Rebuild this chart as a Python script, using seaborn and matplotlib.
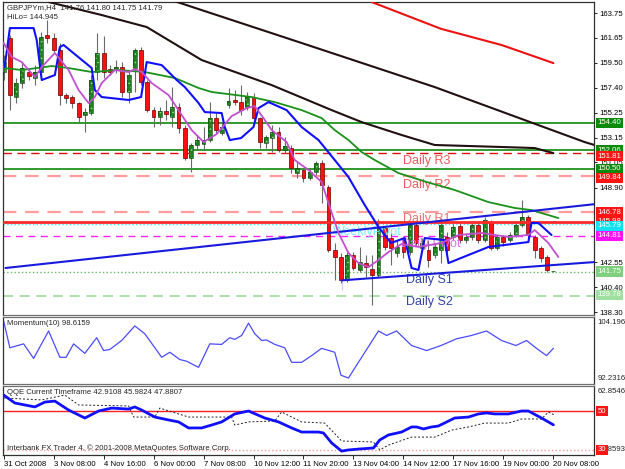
import numpy as np
import pandas as pd
import matplotlib
matplotlib.use("Agg")
import matplotlib.pyplot as plt
import seaborn as sns

sns.set_theme(style="white")
plt.rcParams["font.family"] = ["Liberation Sans", "DejaVu Sans"]
plt.rcParams["hatch.linewidth"] = 0.6

# ---- GBPJPYm H4 candles ----
opens = [158.73, 161.62, 156.60, 157.79, 158.73, 158.22, 158.73, 161.88, 161.62, 160.60,
         156.77, 156.60, 156.09, 155.07, 155.24, 158.73, 160.35, 158.98, 158.90, 159.15,
         157.03, 159.07, 160.60, 157.88, 155.49, 154.90, 155.41, 154.90, 155.75, 153.96,
         151.41, 152.52, 152.60, 152.94, 154.81, 153.54, 155.92, 156.35, 156.17, 155.75,
         156.60, 154.81, 152.69, 153.11, 153.62, 152.09, 152.26, 150.13, 150.39, 149.71,
         150.22, 150.98, 148.94, 143.58, 142.98, 141.03, 143.16, 141.88, 142.47, 141.96,
         141.45, 145.45, 144.60, 143.33, 144.43, 143.41, 145.71, 143.75, 143.58, 143.16,
         143.58, 144.69, 144.69, 145.62, 144.43, 144.69, 145.71, 144.43, 145.96, 143.75,
         144.69, 144.43, 144.86, 145.71, 146.39, 144.69, 143.75, 142.98, 141.76]
highs = [160.18, 161.88, 158.22, 159.58, 159.07, 159.32, 162.13, 163.15, 162.05, 161.20,
         156.94, 156.77, 156.17, 155.66, 158.47, 162.05, 161.79, 159.32, 159.75, 159.58,
         158.90, 160.77, 160.86, 158.05, 155.75, 155.75, 156.35, 157.45, 156.09, 154.22,
         152.69, 153.37, 154.05, 156.17, 155.24, 154.47, 157.37, 157.20, 157.62, 157.03,
         156.94, 154.90, 153.37, 154.22, 154.05, 153.20, 152.52, 151.07, 150.56, 150.56,
         151.15, 151.24, 149.11, 144.17, 143.33, 143.41, 143.41, 143.84, 143.16, 143.16,
         146.22, 145.62, 145.11, 144.43, 144.69, 145.88, 145.96, 144.60, 144.43, 144.17,
         146.30, 145.11, 145.79, 145.88, 144.94, 145.88, 145.96, 146.39, 146.13, 144.86,
         144.86, 145.11, 145.96, 147.83, 146.56, 144.86, 143.92, 143.16, 141.80]
lows = [158.05, 155.49, 156.09, 157.37, 158.05, 157.62, 158.47, 161.20, 160.35, 155.92,
        156.09, 155.66, 154.47, 153.62, 155.07, 158.05, 158.22, 158.47, 158.64, 156.60,
        156.09, 157.03, 157.62, 155.32, 154.05, 154.22, 154.64, 154.05, 153.54, 151.24,
        150.22, 152.09, 152.09, 152.77, 153.54, 153.37, 155.66, 155.92, 155.07, 155.49,
        154.64, 152.26, 152.26, 151.92, 151.92, 151.83, 150.13, 149.71, 149.37, 149.54,
        149.96, 147.58, 143.41, 141.03, 140.77, 140.86, 141.88, 141.71, 141.29, 138.90,
        141.29, 143.58, 142.30, 142.98, 142.90, 143.16, 143.92, 143.41, 142.13, 142.90,
        142.47, 143.33, 144.43, 144.17, 144.17, 144.43, 144.17, 144.26, 143.58, 143.58,
        143.92, 144.26, 144.69, 145.54, 144.60, 142.90, 142.56, 141.71, 141.75]
closes = [159.58, 156.77, 157.79, 159.07, 158.39, 158.73, 161.71, 161.62, 160.60, 156.77,
          156.52, 156.09, 154.90, 155.32, 158.05, 160.35, 158.73, 158.73, 159.15, 157.03,
          158.47, 160.60, 157.88, 155.49, 154.90, 155.41, 155.15, 155.75, 153.96, 151.41,
          152.52, 152.94, 152.94, 154.81, 153.79, 154.05, 156.26, 156.17, 155.49, 156.60,
          154.81, 152.77, 153.20, 153.62, 152.09, 152.43, 150.56, 150.56, 149.71, 150.22,
          150.98, 149.11, 143.58, 142.98, 141.03, 143.16, 142.05, 142.56, 142.13, 141.45,
          145.45, 143.84, 143.75, 143.84, 143.41, 145.71, 144.17, 144.17, 142.73, 143.84,
          145.71, 143.58, 145.54, 144.43, 144.69, 145.71, 144.43, 146.13, 143.75, 144.69,
          144.26, 144.86, 145.71, 146.39, 144.86, 143.58, 142.90, 141.88, 141.79]

# HiLo activator line
hilo_x = [0.16, 1, 4.8, 5.3, 6.1, 8.2, 9, 9.6, 14.1, 14.6, 15.7, 20, 22, 22.9, 25.3, 27.7,
          29, 31.2, 32.2, 34.9, 35.4, 36.2, 38, 40, 40.8, 42.4, 45.3, 47.7, 50.4, 53, 55.2,
          57.8, 60, 61, 62, 64.2, 65.3, 66.4, 67.4, 70.6, 71.2, 77.6, 84, 84.5, 85.6, 87.7]
hilo_y = [159.15, 162.47, 162.47, 161.45, 158.05, 158.47, 160.86, 161.03, 159.07, 157.20,
          156.60, 156.35, 156.60, 159.58, 159.32, 158.05, 157.45, 156.09, 155.32, 155.24,
          154.05, 152.94, 153.11, 154.05, 155.66, 156.17, 155.49, 154.05, 152.94, 151.24,
          149.79, 147.41, 145.54, 144.86, 144.18, 144.60, 142.05, 141.88, 144.60, 144.43,
          142.47, 143.84, 144.26, 145.88, 145.88, 144.86]
# short MA (magenta)
mag_x = [0, 1.3, 2.9, 5, 6.1, 8.2, 10.4, 12, 13.6, 14.6, 15.7, 17.8, 20, 21, 22.1, 23.7,
         26.4, 28.5, 30.1, 32, 34.1, 36.5, 38.9, 40.2, 41.6, 42.9, 45.3, 46.6, 48.8, 50.9,
         52, 53.6, 55.2, 56.8, 58.4, 60, 61.6, 63.7, 66.4, 70.1, 72.8, 76.5, 80.8, 84, 85,
         87.2, 88.8]
mag_y = [161.20, 160.01, 159.58, 158.30, 159.15, 160.35, 158.90, 157.20, 156.09, 156.60,
         157.79, 158.90, 158.73, 158.98, 158.73, 157.79, 156.77, 155.07, 153.79, 152.77,
         153.45, 154.98, 155.66, 155.83, 154.81, 153.79, 152.77, 151.24, 150.39, 149.37,
         147.58, 145.03, 143.33, 142.47, 142.13, 142.73, 143.41, 144.09, 143.84, 144.18,
         144.86, 145.03, 144.69, 144.86, 145.28, 144.18, 142.98]
# slow MAs
gma_x = [0, 2.9, 7.7, 10.4, 14.1, 18.4, 22.6, 27.4, 31.2, 33.3, 39.7, 43.4, 47.7, 50.9, 53,
         55.2, 57.3, 59.4, 63.2, 67.7, 72.2, 77.6, 81.8, 84.5, 88.8]
gma_y = [159.07, 158.90, 159.24, 159.07, 158.73, 158.90, 158.73, 158.22, 157.37, 157.03,
         156.60, 156.17, 155.49, 154.81, 153.79, 152.94, 151.92, 151.24, 150.13, 149.37,
         148.69, 147.66, 147.16, 146.98, 146.30]
blka_x = [26, 47.7, 69, 93, 94.7]
blka_y = [165.0, 161.20, 157.45, 152.77, 152.50]
blkb_x = [7.2, 15.7, 22.9, 31.7, 42.9, 52.5, 57.3, 63.7, 69, 79.7, 85, 88]
blkb_y = [164.69, 163.58, 162.56, 159.75, 157.62, 155.49, 154.47, 153.37, 152.52, 152.35,
          152.26, 151.83]
redma_x = [58.9, 70, 79.7, 88]
redma_y = [164.69, 162.41, 161.03, 159.49]
# channel
chan_up_x, chan_up_y = [0.3, 94.7], [142.05, 147.49]
chan_lo_x, chan_lo_y = [54.1, 54.1, 94.7], [141.83, 140.17, 142.56]

# Momentum(10)
mom_x = [0, 1, 3.2, 4.8, 7.2, 9, 10, 11.2, 13, 14.9, 16, 17, 18.9, 21, 22.6, 25.3, 26.6,
         28.2, 29.3, 31.2, 33, 34.9, 36.2, 37, 38.1, 39.2, 40.2, 41.3, 42.1, 43.4, 45, 46.1,
         47.7, 49.3, 50.9, 53, 54, 55.2, 56.5, 58, 60, 61.3, 62.9, 65.3, 67.7, 70, 72.5,
         74.9, 77.3, 79.7, 82, 83.7, 85.3, 86.9, 88]
mom_v = [103.5, 98.7, 99.4, 96.8, 101.7, 97.0, 97.0, 99.4, 97.7, 100.5, 98.2, 98.4, 100.0,
         102.6, 101.2, 97.0, 97.9, 96.6, 96.3, 95.2, 99.4, 99.3, 100.5, 100.2, 100.9, 103.1,
         101.2, 100.0, 100.1, 99.3, 98.7, 96.1, 96.1, 97.3, 98.6, 97.9, 93.8, 93.3, 95.6,
         98.2, 101.7, 100.9, 101.7, 99.1, 98.2, 99.1, 100.3, 100.9, 101.7, 100.0, 99.1,
         100.0, 98.6, 97.3, 98.6]

# QQE
qb_x = [0, 1.8, 5, 6.6, 8.2, 10.4, 13, 15.2, 17.3, 20, 21, 22.1, 24.2, 26.4, 28, 29.6,
        31.7, 33.3, 34.9, 37, 39.2, 41.8, 44, 46.1, 47.7, 50.4, 51.2, 52.5, 54.1, 55.2, 57,
        59.2, 60.2, 61.6, 63.7, 65.3, 66.1, 67.2, 68.5, 69.6, 72.2, 74.4, 76, 77.3, 78.6,
        80.8, 82.9, 84, 86.1, 88]
qb_v = [58.2, 54.1, 52.1, 54.6, 55.1, 50.5, 46.4, 50.0, 51.5, 51.0, 52.1, 50.5, 46.9, 45.4,
        44.4, 41.3, 41.3, 42.8, 44.4, 48.5, 50.0, 46.4, 44.4, 41.3, 39.2, 39.2, 38.7, 33.6,
        29.4, 30.0, 30.5, 31.0, 35.1, 37.7, 39.2, 41.8, 41.8, 40.8, 41.8, 42.3, 46.4, 46.9,
        48.5, 49.0, 48.5, 48.5, 50.0, 50.0, 46.4, 42.9]
qd_x = [0, 6.1, 9.8, 12, 20, 20.8, 24.2, 25, 29.6, 36.5, 37, 39.2, 43.4, 44.5, 47.7, 51.4,
        54.1, 59.2, 60.2, 61.6, 65.3, 69, 71.7, 74.4, 77, 80.8, 82.9, 86.1, 87.2, 88.2]
qd_v = [56.7, 55.7, 58.2, 53.1, 52.6, 46.9, 46.9, 51.5, 46.9, 46.9, 42.8, 44.4, 44.9, 49.5,
        44.4, 43.8, 34.6, 34.1, 30.0, 32.5, 36.6, 36.6, 40.2, 41.8, 43.8, 43.8, 45.9, 45.9,
        49.5, 47.9]

time_labels = ["31 Oct 2008", "3 Nov 08:00", "4 Nov 16:00", "6 Nov 00:00", "7 Nov 08:00",
               "10 Nov 12:00", "11 Nov 20:00", "13 Nov 04:00", "14 Nov 12:00",
               "17 Nov 16:00", "19 Nov 00:00", "20 Nov 08:00"]
price_ticks = [163.75, 161.65, 159.50, 157.40, 155.25, 153.15, 151.05, 148.90, 142.55,
               140.40, 138.30]

df = pd.DataFrame({"o": opens, "h": highs, "l": lows, "c": closes})
df["bar"] = np.arange(len(df))

FS = 5.6  # small terminal font

fig = plt.figure(figsize=(6.25, 4.69), dpi=100)
W, H = 625, 469


def box(l, t, r, b):
    return [l / W, 1 - b / H, (r - l) / W, (b - t) / H]


ax1 = fig.add_axes(box(3, 2, 594, 315))
ax2 = fig.add_axes(box(3, 317, 594, 384), sharex=ax1)
ax3 = fig.add_axes(box(3, 386, 594, 455), sharex=ax1)
for a in (ax1, ax2, ax3):
    a.set_facecolor("white")
    for s in a.spines.values():
        s.set_color("#303030")
        s.set_linewidth(0.9)
    a.yaxis.tick_right()
    a.tick_params(axis="y", right=True, left=False, length=2.5, width=0.6, pad=1.5,
                  labelsize=FS, colors="black")
    a.tick_params(axis="x", bottom=False, labelbottom=False)
# grey separator bands between the windows
for s in ("bottom",):
    ax1.spines[s].set_color("#707070")
    ax2.spines[s].set_color("#707070")
for s in ("top",):
    ax2.spines[s].set_color("#707070")
    ax3.spines[s].set_color("#707070")

# ---- horizontal levels ----
ax1.axhline(154.40, color="#0a8a0a", lw=1.2)
ax1.axhline(152.06, color="#0a8a0a", lw=1.2)
ax1.axhline(150.50, color="#0a8a0a", lw=1.2)
ax1.axhline(151.81, color="#dd1010", lw=1.0, dashes=(6, 4))
ax1.axhline(149.84, color="#ff9d9d", lw=1.6, dashes=(6, 4))
ax1.axhline(146.78, color="#ff9d9d", lw=1.6, dashes=(6, 4))
ax1.axhline(145.98, color="#ff2828", lw=2.0, zorder=4.8)
ax1.axhline(145.79, color="#33e8ff", lw=1.0, ls=":")
ax1.axhline(144.81, color="#ff22ff", lw=1.0, dashes=(5, 4))
ax1.axhline(141.75, color="#66bb66", lw=1.0, ls=":")
ax1.axhline(139.70, color="#99dd99", lw=1.2, dashes=(6, 4))

# ---- candles ----
up = df.c >= df.o
ax1.vlines(df.bar, df.l, df.h, color="#6a6a6a", lw=0.8, zorder=3)
ax1.bar(df.bar[up], (df.c - df.o)[up].clip(lower=0.04), bottom=df.o[up], width=0.62,
        color="#1f7f1f", edgecolor="#8fd88f", hatch="....", lw=0, zorder=4)
ax1.bar(df.bar[up], (df.c - df.o)[up].clip(lower=0.04), bottom=df.o[up], width=0.62,
        fill=False, edgecolor="#0b4d0b", lw=0.5, zorder=4.1)
ax1.bar(df.bar[~up], (df.c - df.o)[~up], bottom=df.o[~up], width=0.62,
        color="#ff1010", edgecolor="#6a0000", lw=0.5, zorder=4)

# ---- indicator lines ----
sns.lineplot(x=gma_x, y=gma_y, ax=ax1, color="#1a911a", lw=1.3, sort=False, zorder=5)
sns.lineplot(x=blka_x, y=blka_y, ax=ax1, color="#221010", lw=1.5, sort=False, zorder=5)
sns.lineplot(x=blkb_x, y=blkb_y, ax=ax1, color="#221010", lw=1.5, sort=False, zorder=5)
sns.lineplot(x=redma_x, y=redma_y, ax=ax1, color="#ee1111", lw=1.5, sort=False, zorder=5)
sns.lineplot(x=chan_up_x, y=chan_up_y, ax=ax1, color="#1a1adf", lw=1.5, sort=False, zorder=6)
sns.lineplot(x=chan_lo_x, y=chan_lo_y, ax=ax1, color="#1a1adf", lw=1.5, sort=False, zorder=6)
sns.lineplot(x=hilo_x, y=hilo_y, ax=ax1, color="#1010ff", lw=1.5, sort=False, zorder=6)
sns.lineplot(x=mag_x, y=mag_y, ax=ax1, color="#c050d0", lw=1.3, sort=False, zorder=6)

ax1.set_xlim(-0.1, 94.5)
ax1.set_ylim(138.05, 164.69)
ax1.set_yticks(price_ticks)
ax1.set_yticklabels([f"{p:.2f}" for p in price_ticks])
ax1.set_xlabel("")
ax1.set_ylabel("")

# pivot texts
txt = dict(fontsize=9, va="center", ha="left", zorder=4.5)
ax1.text(64.0, 151.15, "Daily R3", color="#f05858", **txt)
ax1.text(64.0, 149.12, "Daily R2", color="#f05858", **txt)
ax1.text(64.0, 146.22, "Daily R1", color="#f07070", **txt)
ax1.text(52.7, 145.10, "WeeklyPivot", color="#77eeff", **txt)
ax1.text(63.6, 144.09, "Daily Pivot", color="#e070e8", **txt)
ax1.text(64.4, 141.03, "Daily S1", color="#3344a8", **txt)
ax1.text(64.4, 139.15, "Daily S2", color="#3344a8", **txt)


def tag(ax, y, s, bg, fg="white", dy=0.0):
    ax.text(1.006, y + dy, s, transform=ax.get_yaxis_transform(), fontsize=FS, color=fg,
            va="center", ha="left", clip_on=False, zorder=10,
            bbox=dict(boxstyle="square,pad=0.2", fc=bg, ec="none"))


tag(ax1, 154.40, "154.40", "#0a8a0a")
tag(ax1, 152.06, "152.06", "#0a8a0a")
tag(ax1, 151.81, "151.81", "#ff1515", dy=-0.25)
tag(ax1, 150.50, "150.50", "#0a8a0a")
tag(ax1, 149.84, "149.84", "#ff1515", dy=-0.1)
tag(ax1, 145.98, "145.98", "#ff1515")
tag(ax1, 146.78, "146.78", "#ff1515")
tag(ax1, 145.79, "145.79", "#11e0f0", dy=-0.15)
tag(ax1, 144.81, "144.81", "#ff10ff")
tag(ax1, 141.75, "141.75", "#7fcf7f")
tag(ax1, 139.78, "139.78", "#9fdf9f")

ax1.text(0.006, 0.993, "GBPJPYm,H4  141.76 141.80 141.75 141.79", transform=ax1.transAxes,
         fontsize=FS, va="top", ha="left", zorder=11)
ax1.text(0.006, 0.962, "HiLo= 144.945", transform=ax1.transAxes,
         fontsize=FS, va="top", ha="left", zorder=11)

# ---- Momentum panel ----
sns.lineplot(x=mom_x, y=mom_v, ax=ax2, color="#4b4bff", lw=0.9, sort=False)
ax2.set_ylim(92.2316, 104.1961)
ax2.set_yticks([])
ax2.set_xlabel("")
ax2.set_ylabel("")
ax2.text(0.006, 0.95, "Momentum(10) 98.6159", transform=ax2.transAxes, fontsize=FS,
         va="top", ha="left")
ax2.text(1.006, 0.97, "104.1961", transform=ax2.transAxes, fontsize=FS, va="top",
         ha="left", clip_on=False)
ax2.text(1.006, 0.03, "92.2316", transform=ax2.transAxes, fontsize=FS, va="bottom",
         ha="left", clip_on=False)

# ---- QQE panel ----
ax3.axhline(50, color="#ff2020", lw=1.0)
ax3.axhline(30, color="#ff9999", lw=1.0, ls=":")
sns.lineplot(x=qd_x, y=qd_v, ax=ax3, color="#222222", lw=0.7, ls=(0, (2, 2)), sort=False)
sns.lineplot(x=qb_x, y=qb_v, ax=ax3, color="#1010ff", lw=2.0, sort=False)
ax3.set_ylim(27.4, 62.85)
ax3.set_yticks([])
ax3.set_ylabel("")
ax3.text(0.006, 0.95, "QQE Current Timeframe 42.9108 45.9824 47.8807",
         transform=ax3.transAxes, fontsize=FS, va="top", ha="left")
ax3.text(0.006, 0.04, "Interbank FX Trader 4, \u00a9 2001-2008 MetaQuotes Software Corp.",
         transform=ax3.transAxes, fontsize=FS, va="bottom", ha="left")
ax3.text(1.006, 0.97, "62.8546", transform=ax3.transAxes, fontsize=FS, va="top",
         ha="left", clip_on=False)
ax3.text(1.006, 30, "36.8593", transform=ax3.get_yaxis_transform(), fontsize=FS,
         va="center", ha="left", clip_on=False)
tag(ax3, 50, "50", "#ff1515")
tag(ax3, 30, "30", "#ff1515")

ax3.set_xticks(range(0, 89, 8))
ax3.set_xticklabels(time_labels, ha="left")
ax3.tick_params(axis="x", bottom=True, labelbottom=True, length=3, width=0.6, pad=1.5,
                labelsize=FS, colors="black")
ax3.set_xlabel("")

fig.savefig("out.png", dpi=100)
